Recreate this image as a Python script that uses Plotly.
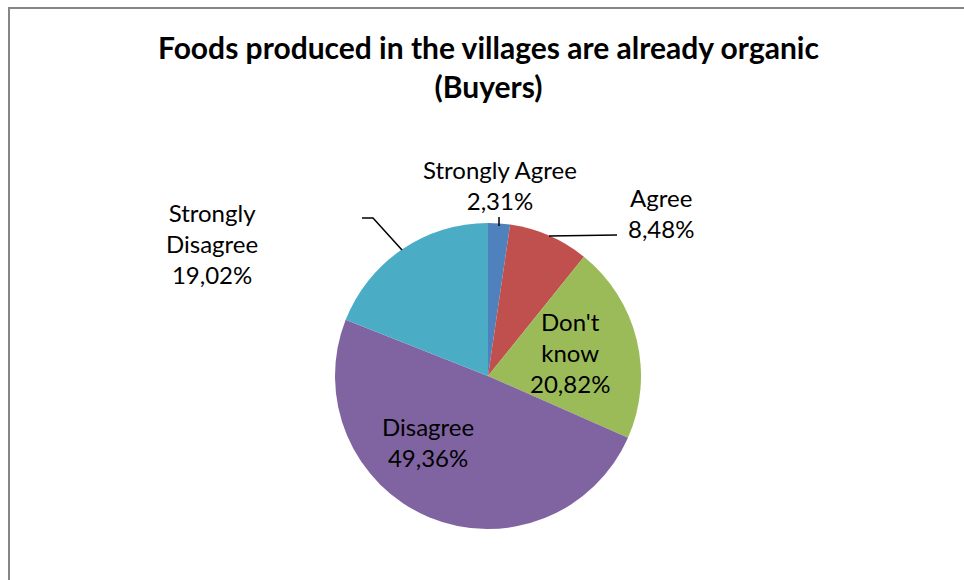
import plotly.graph_objects as go

# Survey answers (buyers)
categories = ["Strongly Agree", "Agree", "Don't know", "Disagree", "Strongly Disagree"]
label_lines = [["Strongly Agree"], ["Agree"], ["Don't", "know"], ["Disagree"], ["Strongly", "Disagree"]]
shares = [2.31, 8.48, 20.82, 49.36, 19.02]
colors = ["#4F81BD", "#C0504D", "#9BBB59", "#8064A2", "#4BACC6"]

W, H = 964, 580
FONT = "Lato, Calibri, sans-serif"


def px(x):
    return x / W


def py(y):
    return 1 - y / H


fig = go.Figure(
    go.Pie(
        labels=categories,
        values=shares,
        sort=False,
        direction="clockwise",
        rotation=0,
        textinfo="none",
        hoverinfo="label+percent",
        marker=dict(colors=colors, line=dict(width=0)),
        domain=dict(x=[px(335), px(641)], y=[py(529), py(223)]),
        showlegend=False,
    )
)

# label anchor positions (centre of the text block, in pixels)
label_pos = [(500, 185), (661, 213), (570, 352), (428, 442), (212, 243)]

annotations = []
for lines, val, (lx, ly) in zip(label_lines, shares, label_pos):
    pct = f"{val:.2f}%".replace(".", ",")
    text = "<br>".join(lines + [pct])
    annotations.append(
        dict(
            x=px(lx), y=py(ly), xref="paper", yref="paper",
            text=text, showarrow=False, xanchor="center", yanchor="middle",
            align="center", font=dict(family=FONT, size=24, color="#000000"),
        )
    )

annotations.append(
    dict(
        x=px(488), y=py(67), xref="paper", yref="paper",
        text="<b>Foods produced in the villages are already organic<br>(Buyers)</b>",
        showarrow=False, xanchor="center", yanchor="middle", align="center",
        font=dict(family=FONT, size=30, color="#000000"),
    )
)

shapes = [
    # chart frame (left and top edges)
    dict(type="line", xref="paper", yref="paper", x0=px(9), y0=py(8), x1=px(9), y1=0,
         line=dict(color="#868686", width=2)),
    dict(type="line", xref="paper", yref="paper", x0=px(8), y0=py(8), x1=1, y1=py(8),
         line=dict(color="#868686", width=2)),
]

# leader lines
leaders = [
    [(499, 217), (499, 226)],
    [(549, 236), (617, 235)],
    [(362, 218), (373, 218), (402, 250)],
]
for pts in leaders:
    path = "M " + " L ".join(f"{px(x)},{py(y)}" for x, y in pts)
    shapes.append(dict(type="path", xref="paper", yref="paper", path=path,
                       line=dict(color="#000000", width=1.5)))

fig.update_layout(
    width=W, height=H,
    margin=dict(l=0, r=0, t=0, b=0),
    paper_bgcolor="#FFFFFF",
    plot_bgcolor="#FFFFFF",
    annotations=annotations,
    shapes=shapes,
)

fig.write_html("out.html")
